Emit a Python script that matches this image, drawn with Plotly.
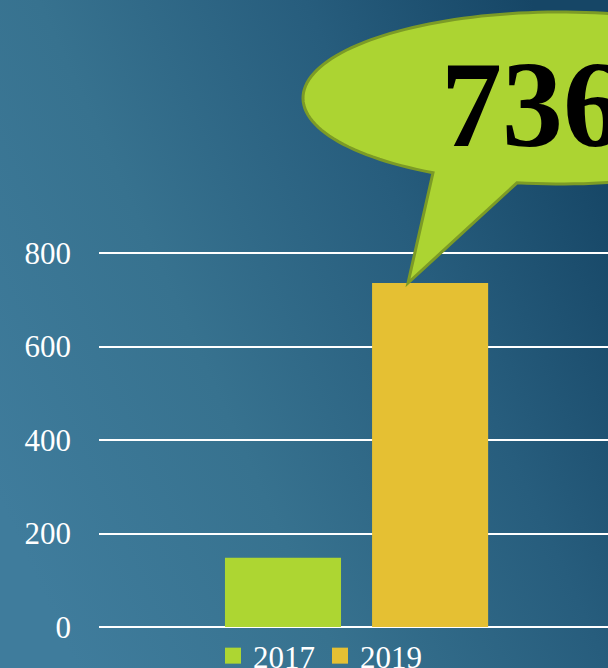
import base64
import numpy as np
import plotly.graph_objects as go

# ---- data ----
categories = ["Total"]
series_names = ["2017", "2019"]
values_2017 = [148]
values_2019 = [736]
series_colors = ["#add632", "#e5c033"]
y_tick_values = [0, 200, 400, 600, 800]
callout_text = "736"

W, H = 608, 668
ML, MR, MT, MB = 99, 0, 0, 41
PW, PH = W - ML - MR, H - MT - MB
Y_TOP = 800 * PH / 374.0  # 800 sits at pixel 253

def px_to_paper(x, y):
    return (x - ML) / PW, (H - MB - y) / PH

# background gradient (svg data uri)
svg = f'''<svg xmlns="http://www.w3.org/2000/svg" width="{W}" height="{H}">
<defs><linearGradient id="g" x1="0" y1="0.75" x2="1" y2="0.25">
<stop offset="0" stop-color="#3f7c9c"/>
<stop offset="0.35" stop-color="#37728f"/>
<stop offset="0.7" stop-color="#275d7d"/>
<stop offset="1" stop-color="#164666"/>
</linearGradient></defs>
<rect width="{W}" height="{H}" fill="url(#g)"/></svg>'''
bg_uri = "data:image/svg+xml;base64," + base64.b64encode(svg.encode()).decode()

# speech bubble outline (decoration)
cx, cy, rx, ry = 560, 98, 257, 86
tip = (408, 283)
t1 = np.arccos((433 - cx) / rx)
t2 = np.arccos((517 - cx) / rx) + 2 * np.pi
ts = np.linspace(t1, t2, 160)
pts = [tip] + [(cx + rx * np.cos(t), cy + ry * np.sin(t)) for t in ts] + [tip]
path = ""
for i, (x, y) in enumerate(pts):
    px, py = px_to_paper(x, y)
    path += ("M" if i == 0 else "L") + f"{px:.5f},{py:.5f}"
path += "Z"

fig = go.Figure()
for name, vals, col in zip(series_names, [values_2017, values_2019], series_colors):
    fig.add_trace(go.Bar(name=name, x=categories, y=vals, showlegend=False,
                         marker=dict(color=col, line=dict(width=0))))
# legend entries with larger square swatches
for name, col in zip(series_names, series_colors):
    fig.add_trace(go.Scatter(name=name, x=[None], y=[None], mode="markers",
                             marker=dict(symbol="square", size=16, color=col,
                                         line=dict(width=0))))

ax, ay = px_to_paper(439, 104)
lx, ly = px_to_paper(213, 629)
fig.update_layout(
    width=W, height=H,
    margin=dict(l=ML, r=MR, t=MT, b=MB, autoexpand=False),
    paper_bgcolor="#2d6686",
    plot_bgcolor="rgba(0,0,0,0)",
    barmode="group", bargap=0.422, bargroupgap=0.211,
    xaxis=dict(range=[-0.506, 0.494], showticklabels=False, showgrid=False,
               zeroline=False, showline=False, fixedrange=True),
    yaxis=dict(range=[0, Y_TOP], tickvals=y_tick_values, showgrid=True,
               gridcolor="white", gridwidth=2, zeroline=True, zerolinecolor="white",
               zerolinewidth=2, showline=False, ticks="", ticklabelstandoff=27,
               tickfont=dict(family="Liberation Serif", size=31, color="white")),
    legend=dict(orientation="h", x=lx, xanchor="left", y=ly, yanchor="top",
                font=dict(family="Liberation Serif", size=31, color="white"),
                bgcolor="rgba(0,0,0,0)", itemclick=False, tracegroupgap=0),
    images=[dict(source=bg_uri, xref="paper", yref="paper", x=-ML / PW, y=1 + MT / PH,
                 sizex=W / PW, sizey=H / PH, xanchor="left", yanchor="top",
                 sizing="stretch", layer="below")],
    shapes=[dict(type="path", xref="paper", yref="paper", path=path,
                 fillcolor="#acd432", line=dict(color="#7c9b26", width=3), layer="above")],
    annotations=[dict(text=f"<b>{callout_text}</b>", xref="paper", yref="paper",
                      x=ax, y=ay, xanchor="left", yanchor="middle", showarrow=False,
                      font=dict(family="Liberation Serif", size=122, color="black"))],
)

fig.write_html("out.html", config={"displayModeBar": False},
               post_script="document.body.style.margin='0px';")
